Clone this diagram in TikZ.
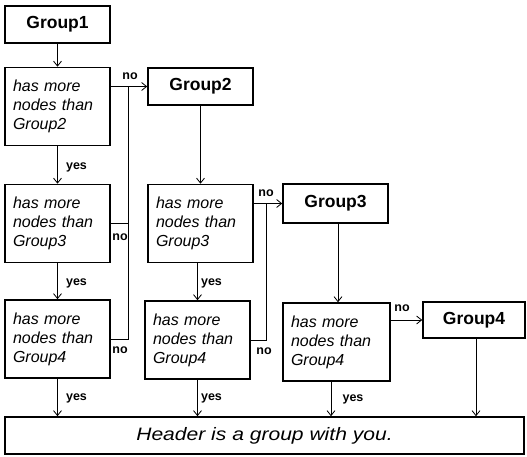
\documentclass[tikz,border=0pt]{standalone}
\usepackage{fontspec}
\setmainfont{Liberation Sans}
\usetikzlibrary{arrows.meta}
\begin{document}
\begin{tikzpicture}[x=1pt,y=-1pt,
  groupbox/.style={draw,line width=1.6pt,minimum width=105pt,minimum height=37pt,inner sep=0pt,
     font=\fontsize{17.5}{20}\selectfont\bfseries},
  decbox/.style={draw,line width=1.6pt,text width=89pt,inner xsep=8pt,inner ysep=0pt,minimum height=78pt,
     align=left,font=\fontsize{16}{19}\selectfont\itshape},
  lab/.style={inner sep=0pt,font=\fontsize{12.5}{14}\selectfont\bfseries},
  conn/.style={line width=0.8pt},
  arr/.style={conn,-{Straight Barb[length=5pt,width=8pt]}}
]
\useasboundingbox (0,0) rectangle (527,456);

\node[groupbox] (g1) at (57.5,24.5) {Group1};
\node[decbox] (d11) at (57.5,106.5) {has more\\nodes than\\Group2};
\node[decbox] (d12) at (57.5,223.5) {has more\\nodes than\\Group3};
\node[decbox] (d13) at (57.5,339) {has more\\nodes than\\Group4};

\node[groupbox] (g2) at (200.5,86.5) {Group2};
\node[decbox] (d22) at (200.5,223.5) {has more\\nodes than\\Group3};
\node[decbox] (d23) at (197.5,340) {has more\\nodes than\\Group4};

\node[groupbox,minimum height=39pt] (g3) at (335.5,203.5) {Group3};
\node[decbox,text width=91pt] (d33) at (336.5,342) {has more\\nodes than\\Group4};

\node[groupbox,minimum width=102pt,minimum height=36pt] (g4) at (474,320) {Group4};

\node[draw,line width=1.6pt,minimum width=519pt,minimum height=37pt,inner sep=0pt,
      font=\fontsize{18}{20}\selectfont\itshape] (hdr) at (264.5,435.5)
      {\scalebox{1.17}[1]{Header is a group with you.}};

\coordinate (v1) at (128,86.5);
\coordinate (v2) at (266,203.5);

% column 1
\draw[arr] (g1) -- (d11);
\draw[arr] (d11) -- (d12);
\draw[arr] (d12) -- (d13);
\draw[arr] (d13.south) -- (d13.south |- hdr.north);
\draw[arr] (d11.east |- g2.west) -- (g2.west);
\draw[conn] (d13.east) -| (v1);
\draw[conn] (d12.east) -- (d12.east -| v1);

% column 2
\draw[arr] (g2) -- (d22);
\draw[arr] (d22.south -| d23.north) -- (d23.north);
\draw[arr] (d23.south) -- (d23.south |- hdr.north);
\draw[arr] (d22.east |- g3.west) -- (g3.west);
\draw[conn] (d23.east) -| (v2);

% column 3
\draw[arr] ([xshift=2.5pt]g3.south) -- ([xshift=2.5pt]g3.south |- d33.north);
\draw[arr] (d33.east |- g4.west) -- (g4.west);
\draw[arr] ([xshift=-5.5pt]d33.south) -- ([xshift=-5.5pt]d33.south |- hdr.north);

% column 4
\draw[arr] ([xshift=2pt]g4.south) -- ([xshift=2pt]g4.south |- hdr.north);

% labels
\node[lab] (n1) at (130,76) {no};
\node[lab] (n2) at (120,237) {no};
\node[lab] (n3) at (120,350) {no};
\node[lab] (n4) at (266,193) {no};
\node[lab] (n5) at (264,351) {no};
\node[lab] (n6) at (402,308) {no};
\node[lab] (y1) at (76.5,167) {yes};
\node[lab] (y2) at (76.5,283) {yes};
\node[lab] (y3) at (76.5,398) {yes};
\node[lab] (y4) at (211.5,283) {yes};
\node[lab] (y5) at (211.5,398) {yes};
\node[lab] (y6) at (353,399) {yes};
\end{tikzpicture}
\end{document}
